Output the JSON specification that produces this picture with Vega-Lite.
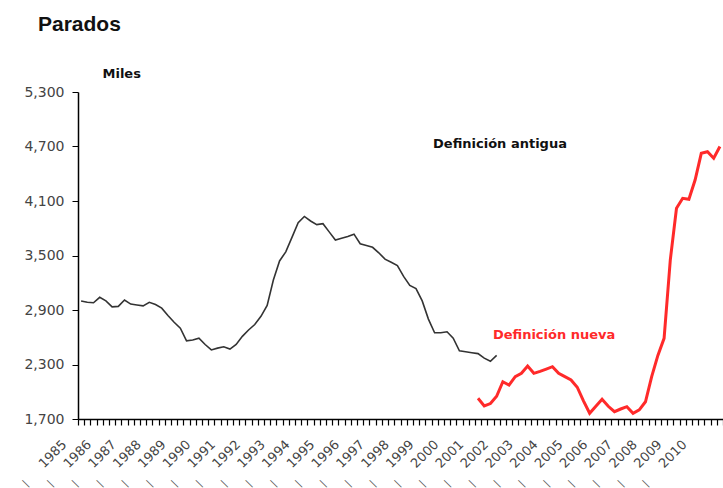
{
  "$schema": "https://vega.github.io/schema/vega-lite/v6.json",
  "width": 645,
  "height": 327,
  "autosize": {"type": "none"},
  "padding": {"left": 78, "top": 92, "right": 0, "bottom": 69},
  "background": "white",
  "title": {
    "text": "Parados",
    "anchor": "start",
    "frame": "group",
    "dx": -40,
    "offset": 15,
    "baseline": "alphabetic",
    "font": "Liberation Sans",
    "fontSize": 21,
    "fontWeight": "bold",
    "color": "#111"
  },
  "config": {
    "view": {"stroke": null},
    "axis": {"grid": false}
  },
  "data": {
    "values": [
      {"quarter": 0, "value": 3000, "series": "antigua"},
      {"quarter": 1, "value": 2985, "series": "antigua"},
      {"quarter": 2, "value": 2980, "series": "antigua"},
      {"quarter": 3, "value": 3040, "series": "antigua"},
      {"quarter": 4, "value": 3000, "series": "antigua"},
      {"quarter": 5, "value": 2935, "series": "antigua"},
      {"quarter": 6, "value": 2940, "series": "antigua"},
      {"quarter": 7, "value": 3010, "series": "antigua"},
      {"quarter": 8, "value": 2965, "series": "antigua"},
      {"quarter": 9, "value": 2955, "series": "antigua"},
      {"quarter": 10, "value": 2945, "series": "antigua"},
      {"quarter": 11, "value": 2985, "series": "antigua"},
      {"quarter": 12, "value": 2960, "series": "antigua"},
      {"quarter": 13, "value": 2920, "series": "antigua"},
      {"quarter": 14, "value": 2840, "series": "antigua"},
      {"quarter": 15, "value": 2765, "series": "antigua"},
      {"quarter": 16, "value": 2700, "series": "antigua"},
      {"quarter": 17, "value": 2560, "series": "antigua"},
      {"quarter": 18, "value": 2570, "series": "antigua"},
      {"quarter": 19, "value": 2590, "series": "antigua"},
      {"quarter": 20, "value": 2520, "series": "antigua"},
      {"quarter": 21, "value": 2460, "series": "antigua"},
      {"quarter": 22, "value": 2480, "series": "antigua"},
      {"quarter": 23, "value": 2495, "series": "antigua"},
      {"quarter": 24, "value": 2470, "series": "antigua"},
      {"quarter": 25, "value": 2520, "series": "antigua"},
      {"quarter": 26, "value": 2610, "series": "antigua"},
      {"quarter": 27, "value": 2680, "series": "antigua"},
      {"quarter": 28, "value": 2740, "series": "antigua"},
      {"quarter": 29, "value": 2830, "series": "antigua"},
      {"quarter": 30, "value": 2950, "series": "antigua"},
      {"quarter": 31, "value": 3230, "series": "antigua"},
      {"quarter": 32, "value": 3440, "series": "antigua"},
      {"quarter": 33, "value": 3540, "series": "antigua"},
      {"quarter": 34, "value": 3700, "series": "antigua"},
      {"quarter": 35, "value": 3860, "series": "antigua"},
      {"quarter": 36, "value": 3930, "series": "antigua"},
      {"quarter": 37, "value": 3880, "series": "antigua"},
      {"quarter": 38, "value": 3840, "series": "antigua"},
      {"quarter": 39, "value": 3850, "series": "antigua"},
      {"quarter": 40, "value": 3760, "series": "antigua"},
      {"quarter": 41, "value": 3670, "series": "antigua"},
      {"quarter": 42, "value": 3690, "series": "antigua"},
      {"quarter": 43, "value": 3710, "series": "antigua"},
      {"quarter": 44, "value": 3735, "series": "antigua"},
      {"quarter": 45, "value": 3630, "series": "antigua"},
      {"quarter": 46, "value": 3610, "series": "antigua"},
      {"quarter": 47, "value": 3590, "series": "antigua"},
      {"quarter": 48, "value": 3530, "series": "antigua"},
      {"quarter": 49, "value": 3460, "series": "antigua"},
      {"quarter": 50, "value": 3425, "series": "antigua"},
      {"quarter": 51, "value": 3390, "series": "antigua"},
      {"quarter": 52, "value": 3270, "series": "antigua"},
      {"quarter": 53, "value": 3170, "series": "antigua"},
      {"quarter": 54, "value": 3135, "series": "antigua"},
      {"quarter": 55, "value": 3000, "series": "antigua"},
      {"quarter": 56, "value": 2800, "series": "antigua"},
      {"quarter": 57, "value": 2650, "series": "antigua"},
      {"quarter": 58, "value": 2650, "series": "antigua"},
      {"quarter": 59, "value": 2660, "series": "antigua"},
      {"quarter": 60, "value": 2590, "series": "antigua"},
      {"quarter": 61, "value": 2450, "series": "antigua"},
      {"quarter": 62, "value": 2440, "series": "antigua"},
      {"quarter": 63, "value": 2430, "series": "antigua"},
      {"quarter": 64, "value": 2420, "series": "antigua"},
      {"quarter": 65, "value": 2370, "series": "antigua"},
      {"quarter": 66, "value": 2335, "series": "antigua"},
      {"quarter": 67, "value": 2400, "series": "antigua"},
      {"quarter": 64, "value": 1928, "series": "nueva"},
      {"quarter": 65, "value": 1843, "series": "nueva"},
      {"quarter": 66, "value": 1870, "series": "nueva"},
      {"quarter": 67, "value": 1950, "series": "nueva"},
      {"quarter": 68, "value": 2110, "series": "nueva"},
      {"quarter": 69, "value": 2074, "series": "nueva"},
      {"quarter": 70, "value": 2166, "series": "nueva"},
      {"quarter": 71, "value": 2203, "series": "nueva"},
      {"quarter": 72, "value": 2283, "series": "nueva"},
      {"quarter": 73, "value": 2203, "series": "nueva"},
      {"quarter": 74, "value": 2225, "series": "nueva"},
      {"quarter": 75, "value": 2250, "series": "nueva"},
      {"quarter": 76, "value": 2276, "series": "nueva"},
      {"quarter": 77, "value": 2203, "series": "nueva"},
      {"quarter": 78, "value": 2166, "series": "nueva"},
      {"quarter": 79, "value": 2130, "series": "nueva"},
      {"quarter": 80, "value": 2050, "series": "nueva"},
      {"quarter": 81, "value": 1900, "series": "nueva"},
      {"quarter": 82, "value": 1763, "series": "nueva"},
      {"quarter": 83, "value": 1840, "series": "nueva"},
      {"quarter": 84, "value": 1917, "series": "nueva"},
      {"quarter": 85, "value": 1840, "series": "nueva"},
      {"quarter": 86, "value": 1780, "series": "nueva"},
      {"quarter": 87, "value": 1810, "series": "nueva"},
      {"quarter": 88, "value": 1836, "series": "nueva"},
      {"quarter": 89, "value": 1763, "series": "nueva"},
      {"quarter": 90, "value": 1800, "series": "nueva"},
      {"quarter": 91, "value": 1890, "series": "nueva"},
      {"quarter": 92, "value": 2166, "series": "nueva"},
      {"quarter": 93, "value": 2400, "series": "nueva"},
      {"quarter": 94, "value": 2588, "series": "nueva"},
      {"quarter": 95, "value": 3450, "series": "nueva"},
      {"quarter": 96, "value": 4020, "series": "nueva"},
      {"quarter": 97, "value": 4130, "series": "nueva"},
      {"quarter": 98, "value": 4119, "series": "nueva"},
      {"quarter": 99, "value": 4331, "series": "nueva"},
      {"quarter": 100, "value": 4625, "series": "nueva"},
      {"quarter": 101, "value": 4643, "series": "nueva"},
      {"quarter": 102, "value": 4570, "series": "nueva"},
      {"quarter": 103, "value": 4700, "series": "nueva"}
    ]
  },
  "resolve": {"axis": {"x": "independent"}},
  "layer": [
    {
      "transform": [{"filter": "datum.series == 'antigua'"}],
      "mark": {"type": "line", "color": "#333333", "strokeWidth": 1.6},
      "encoding": {
        "x": {
          "field": "quarter",
          "type": "quantitative",
          "scale": {"domain": [-0.5, 103.5], "nice": false, "zero": false},
          "axis": {
            "orient": "bottom",
            "title": null,
            "values": [-0.5,0.5,1.5,2.5,3.5,4.5,5.5,6.5,7.5,8.5,9.5,10.5,11.5,12.5,13.5,14.5,15.5,16.5,17.5,18.5,19.5,20.5,21.5,22.5,23.5,24.5,25.5,26.5,27.5,28.5,29.5,30.5,31.5,32.5,33.5,34.5,35.5,36.5,37.5,38.5,39.5,40.5,41.5,42.5,43.5,44.5,45.5,46.5,47.5,48.5,49.5,50.5,51.5,52.5,53.5,54.5,55.5,56.5,57.5,58.5,59.5,60.5,61.5,62.5,63.5,64.5,65.5,66.5,67.5,68.5,69.5,70.5,71.5,72.5,73.5,74.5,75.5,76.5,77.5,78.5,79.5,80.5,81.5,82.5,83.5,84.5,85.5,86.5,87.5,88.5,89.5,90.5,91.5,92.5,93.5,94.5,95.5,96.5,97.5,98.5,99.5,100.5,101.5,102.5,103.5],
            "labelExpr": "((datum.value + 0.5) % 4 == 0 && datum.value < 103) ? '' + (1985 + (datum.value + 0.5) / 4) : ''",
            "labelOverlap": false,
            "labelFlush": false,
            "labelAngle": -45,
            "labelAlign": "right",
            "labelBaseline": "middle",
            "labelOffset": -14,
            "labelPadding": 17,
            "labelFont": "DejaVu Sans",
            "labelFontSize": 13,
            "labelColor": "#444444",
            "tickSize": 6,
            "tickColor": "#000000",
            "tickWidth": 1.2,
            "domainColor": "#000000",
            "domainWidth": 1.5
          }
        },
        "y": {
          "field": "value",
          "type": "quantitative",
          "scale": {"domain": [1700, 5300], "nice": false, "zero": false},
          "axis": {
            "values": [1700, 2300, 2900, 3500, 4100, 4700, 5300],
            "format": ",.0f",
            "title": "Miles",
            "titleAngle": 0,
            "titleX": 24,
            "titleY": -19,
            "titleAlign": "left",
            "titleBaseline": "middle",
            "titleFont": "DejaVu Sans",
            "titleFontSize": 13,
            "titleFontWeight": "bold",
            "titleColor": "#111111",
            "labelFont": "DejaVu Sans",
            "labelFontSize": 14,
            "labelColor": "#444444",
            "labelPadding": 8,
            "tickSize": 6,
            "tickColor": "#000000",
            "domainColor": "#000000",
            "domainWidth": 1.5
          }
        }
      }
    },
    {
      "transform": [{"filter": "datum.series == 'nueva'"}],
      "mark": {"type": "line", "color": "#ff2a2a", "strokeWidth": 3},
      "encoding": {
        "x": {
          "field": "quarter",
          "type": "quantitative",
          "axis": {
            "orient": "bottom",
            "title": null,
            "values": [-0.5,3.5,7.5,11.5,15.5,19.5,23.5,27.5,31.5,35.5,39.5,43.5,47.5,51.5,55.5,59.5,63.5,67.5,71.5,75.5,79.5,83.5,87.5,91.5,95.5,99.5],
            "labelExpr": "'|'",
            "labelOverlap": false,
            "labelFlush": false,
            "labelAngle": -45,
            "labelAlign": "center",
            "labelBaseline": "middle",
            "labelOffset": -53,
            "labelPadding": 64,
            "labelFont": "DejaVu Sans",
            "labelFontSize": 10,
            "labelColor": "#555555",
            "ticks": false,
            "tickSize": 0,
            "domain": false
          }
        },
        "y": {"field": "value", "type": "quantitative"}
      }
    },
    {
      "data": {"values": [{"label": "Definición antigua"}]},
      "mark": {"type": "text", "align": "left", "baseline": "middle", "font": "DejaVu Sans", "fontSize": 13, "fontWeight": "bold", "color": "#111111"},
      "encoding": {
        "x": {"datum": 56.75, "type": "quantitative", "axis": null},
        "y": {"datum": 4728, "type": "quantitative"},
        "text": {"field": "label"}
      }
    },
    {
      "data": {"values": [{"label": "Definición nueva"}]},
      "mark": {"type": "text", "align": "left", "baseline": "middle", "font": "DejaVu Sans", "fontSize": 13, "fontWeight": "bold", "color": "#ff2a2a"},
      "encoding": {
        "x": {"datum": 66.4, "type": "quantitative", "axis": null},
        "y": {"datum": 2625, "type": "quantitative"},
        "text": {"field": "label"}
      }
    }
  ]
}
